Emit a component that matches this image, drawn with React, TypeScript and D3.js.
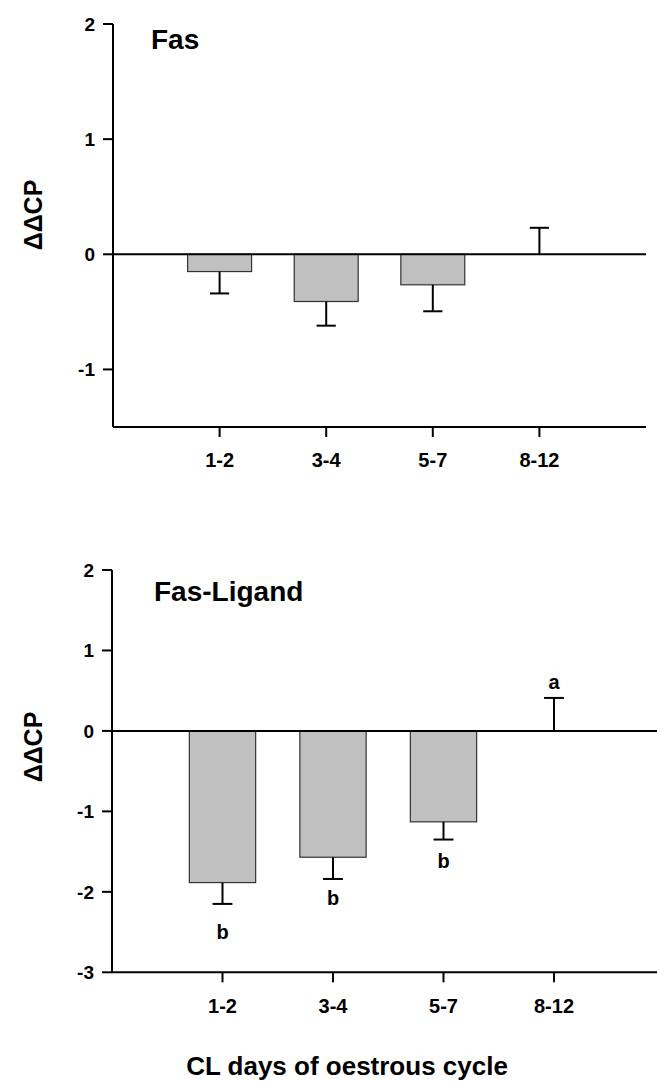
import React from "react";
import * as d3 from "d3";

const categories = ["1-2", "3-4", "5-7", "8-12"];

const fasValues = [-0.15, -0.41, -0.265, 0];
const fasErrors = [0.19, 0.21, 0.23, 0.23];

const fasLValues = [-1.885, -1.57, -1.13, 0];
const fasLErrors = [0.265, 0.27, 0.22, 0.41];
const fasLLetters = ["b", "b", "b", "a"];
const fasLLetterPos = [-2.5, -2.07, -1.61, 0.61];

const fasTicks = [-1, 0, 1, 2];
const fasLTicks = [-3, -2, -1, 0, 1, 2];

const FONT = "'Liberation Sans', Arial, Helvetica, sans-serif";

type PanelProps = {
  title: string;
  values: number[];
  errors: number[];
  letters?: string[];
  letterPos?: number[];
  yDomain: [number, number];
  yRange: [number, number];
  ticks: number[];
  xRange: [number, number];
  titleX: number;
  titleY: number;
  yLabelX: number;
  yLabelY: number;
  catY: number;
};

function Panel(p: PanelProps) {
  const y = d3.scaleLinear().domain(p.yDomain).range(p.yRange);
  const x = d3.scalePoint<string>().domain(categories).range(p.xRange).padding(1);
  const step = x.step();
  const bw = step * 0.6;
  const cap = step * 0.18;
  const x0 = p.xRange[0];
  const axisY = y(p.yDomain[0]);
  const zeroY = y(0);
  return (
    <g fontFamily={FONT} fontWeight="bold" fill="#000">
      {/* bars */}
      {categories.map((c, i) => {
        const v = p.values[i];
        const cx = x(c)!;
        const top = Math.min(y(v), zeroY);
        const h = Math.abs(y(v) - zeroY);
        const e = v < 0 ? v - p.errors[i] : v + p.errors[i];
        return (
          <g key={c}>
            {h > 0.5 && (
              <rect x={cx - bw / 2} y={top} width={bw} height={h} fill="#c0c0c0" stroke="#333" strokeWidth={1.2} />
            )}
            <line x1={cx} x2={cx} y1={y(v)} y2={y(e)} stroke="#000" strokeWidth={2} />
            <line x1={cx - cap / 2} x2={cx + cap / 2} y1={y(e)} y2={y(e)} stroke="#000" strokeWidth={2} />
          </g>
        );
      })}
      {/* zero line */}
      <line x1={x0} x2={p.xRange[1]} y1={zeroY} y2={zeroY} stroke="#000" strokeWidth={2} />
      {/* y axis */}
      <line x1={x0} x2={x0} y1={y(p.yDomain[1])} y2={axisY} stroke="#000" strokeWidth={2} />
      {p.ticks.map((t) => (
        <g key={t}>
          <line x1={x0 - 10} x2={x0} y1={y(t)} y2={y(t)} stroke="#000" strokeWidth={2} />
          <text x={x0 - 18} y={y(t)} dy="0.36em" textAnchor="end" fontSize={19}>
            {t}
          </text>
        </g>
      ))}
      {/* x axis */}
      <line x1={x0} x2={p.xRange[1]} y1={axisY} y2={axisY} stroke="#000" strokeWidth={2} />
      {categories.map((c) => (
        <g key={c}>
          <line x1={x(c)} x2={x(c)} y1={axisY} y2={axisY + 10} stroke="#000" strokeWidth={2} />
          <text x={x(c)} y={p.catY} textAnchor="middle" fontSize={20}>
            {c}
          </text>
        </g>
      ))}
      {/* letters */}
      {p.letters &&
        p.letters.map((l, i) => (
          <text key={i} x={x(categories[i])} y={y(p.letterPos![i])} dy="0.36em" textAnchor="middle" fontSize={20}>
            {l}
          </text>
        ))}
      {/* title */}
      <text x={p.titleX} y={p.titleY} fontSize={28}>
        {p.title}
      </text>
      {/* y label */}
      <text
        transform={`translate(${p.yLabelX},${p.yLabelY}) rotate(-90)`}
        textAnchor="middle"
        fontSize={25}
      >
        ΔΔCP
      </text>
    </g>
  );
}

export default function App() {
  return (
    <svg
      width={657}
      height={1081}
      style={{ position: "absolute", left: 0, top: 0, background: "#fff" }}
    >
      <rect x={0} y={0} width={657} height={1081} fill="#fff" />
      <Panel
        title="Fas"
        values={fasValues}
        errors={fasErrors}
        yDomain={[-1.5, 2]}
        yRange={[427, 24]}
        ticks={fasTicks}
        xRange={[113, 646]}
        titleX={151}
        titleY={49}
        yLabelX={42}
        yLabelY={215}
        catY={467}
      />
      <Panel
        title="Fas-Ligand"
        values={fasLValues}
        errors={fasLErrors}
        letters={fasLLetters}
        letterPos={fasLLetterPos}
        yDomain={[-3, 2]}
        yRange={[972.3, 570]}
        ticks={fasLTicks}
        xRange={[112, 664.5]}
        titleX={154}
        titleY={601}
        yLabelX={42}
        yLabelY={747}
        catY={1013}
      />
      <text
        x={347}
        y={1075}
        textAnchor="middle"
        fontFamily={FONT}
        fontWeight="bold"
        fontSize={26}
      >
        CL days of oestrous cycle
      </text>
    </svg>
  );
}
